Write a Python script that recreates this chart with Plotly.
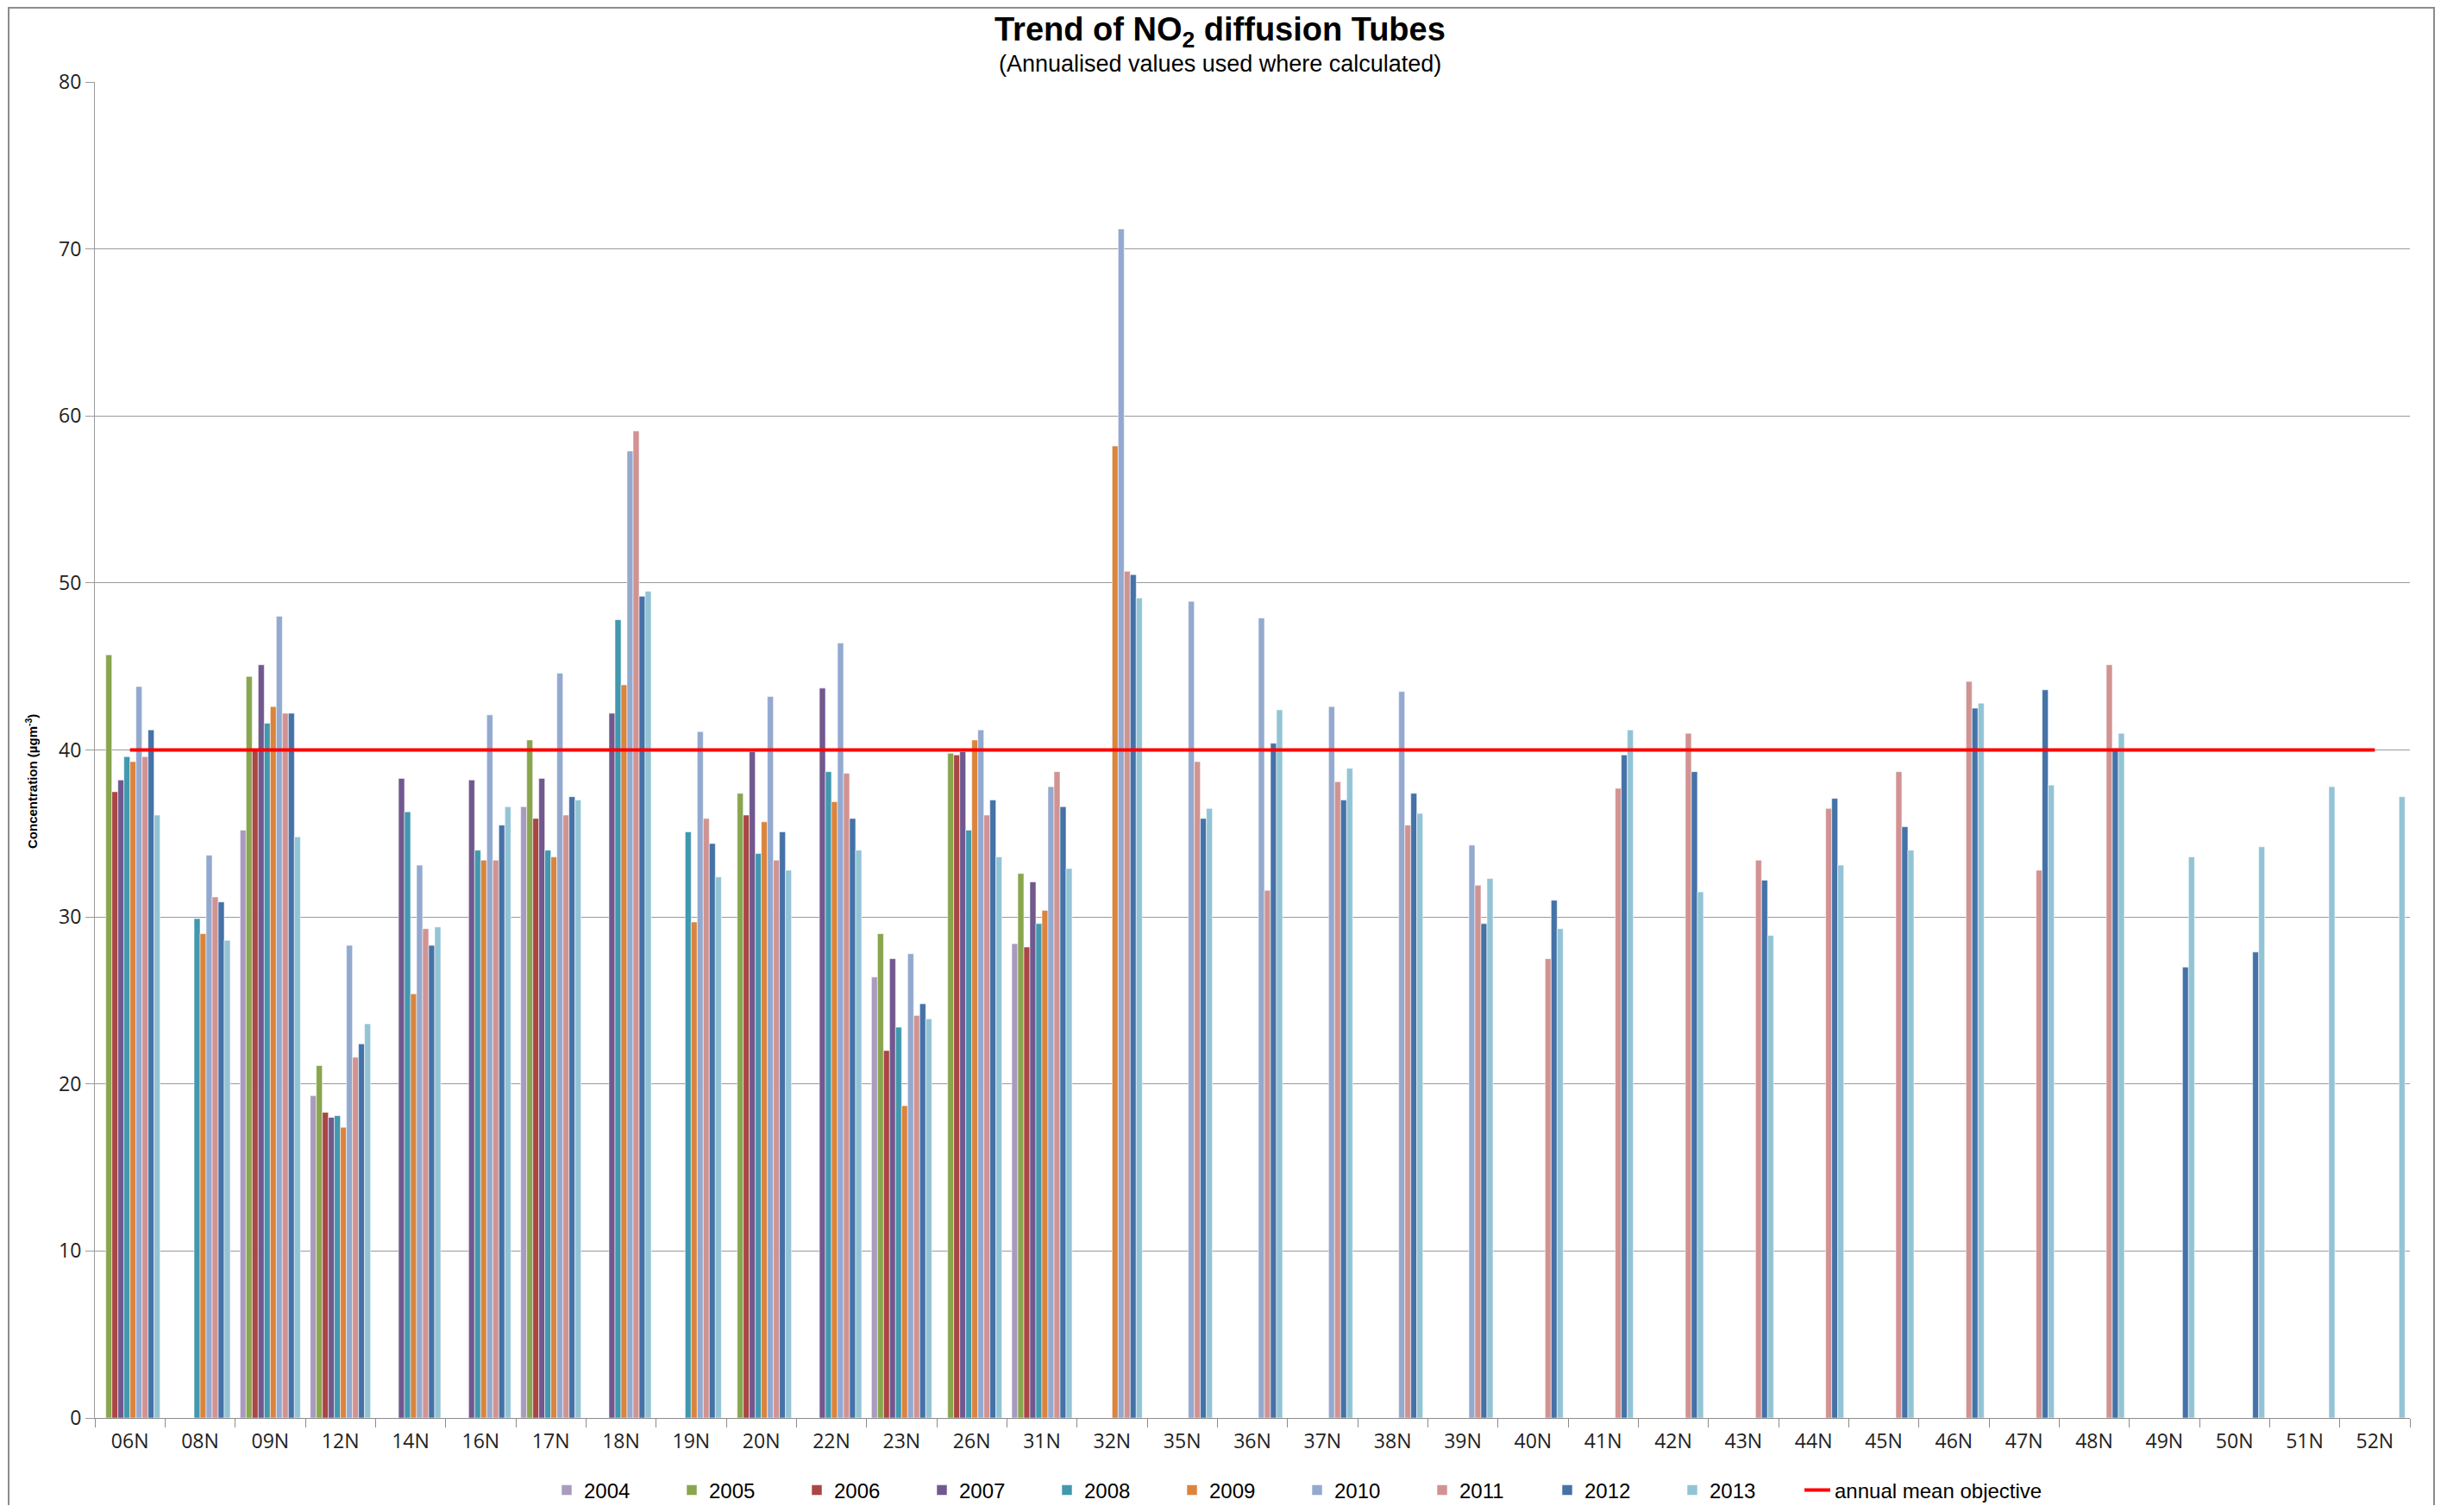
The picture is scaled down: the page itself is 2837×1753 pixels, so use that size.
import plotly.graph_objects as go

categories = ["06N", "08N", "09N", "12N", "14N", "16N", "17N", "18N", "19N", "20N",
              "22N", "23N", "26N", "31N", "32N", "35N", "36N", "37N", "38N", "39N",
              "40N", "41N", "42N", "43N", "44N", "45N", "46N", "47N", "48N", "49N",
              "50N", "51N", "52N"]

N = None
y2004 = [N, N, 35.2, 19.3, N, N, 36.6, N, N, N,
         N, 26.4, N, 28.4, N, N, N, N, N, N,
         N, N, N, N, N, N, N, N, N, N, N, N, N]
y2005 = [45.7, N, 44.4, 21.1, N, N, 40.6, N, N, 37.4,
         N, 29.0, 39.8, 32.6, N, N, N, N, N, N,
         N, N, N, N, N, N, N, N, N, N, N, N, N]
y2006 = [37.5, N, 40.0, 18.3, N, N, 35.9, N, N, 36.1,
         N, 22.0, 39.7, 28.2, N, N, N, N, N, N,
         N, N, N, N, N, N, N, N, N, N, N, N, N]
y2007 = [38.2, N, 45.1, 18.0, 38.3, 38.2, 38.3, 42.2, N, 39.9,
         43.7, 27.5, 39.9, 32.1, N, N, N, N, N, N,
         N, N, N, N, N, N, N, N, N, N, N, N, N]
y2008 = [39.6, 29.9, 41.6, 18.1, 36.3, 34.0, 34.0, 47.8, 35.1, 33.8,
         38.7, 23.4, 35.2, 29.6, N, N, N, N, N, N,
         N, N, N, N, N, N, N, N, N, N, N, N, N]
y2009 = [39.3, 29.0, 42.6, 17.4, 25.4, 33.4, 33.6, 43.9, 29.7, 35.7,
         36.9, 18.7, 40.6, 30.4, 58.2, N, N, N, N, N,
         N, N, N, N, N, N, N, N, N, N, N, N, N]
y2010 = [43.8, 33.7, 48.0, 28.3, 33.1, 42.1, 44.6, 57.9, 41.1, 43.2,
         46.4, 27.8, 41.2, 37.8, 71.2, 48.9, 47.9, 42.6, 43.5, 34.3,
         N, N, N, N, N, N, N, N, N, N, N, N, N]
y2011 = [39.6, 31.2, 42.2, 21.6, 29.3, 33.4, 36.1, 59.1, 35.9, 33.4,
         38.6, 24.1, 36.1, 38.7, 50.7, 39.3, 31.6, 38.1, 35.5, 31.9,
         27.5, 37.7, 41.0, 33.4, 36.5, 38.7, 44.1, 32.8, 45.1, N, N, N, N]
y2012 = [41.2, 30.9, 42.2, 22.4, 28.3, 35.5, 37.2, 49.2, 34.4, 35.1,
         35.9, 24.8, 37.0, 36.6, 50.5, 35.9, 40.4, 37.0, 37.4, 29.6,
         31.0, 39.7, 38.7, 32.2, 37.1, 35.4, 42.5, 43.6, 40.1, 27.0, 27.9, N, N]
y2013 = [36.1, 28.6, 34.8, 23.6, 29.4, 36.6, 37.0, 49.5, 32.4, 32.8,
         34.0, 23.9, 33.6, 32.9, 49.1, 36.5, 42.4, 38.9, 36.2, 32.3,
         29.3, 41.2, 31.5, 28.9, 33.1, 34.0, 42.8, 37.9, 41.0, 33.6, 34.2, 37.8, 37.2]

series_names = ["2004", "2005", "2006", "2007", "2008", "2009", "2010", "2011", "2012", "2013"]
series_values = [y2004, y2005, y2006, y2007, y2008, y2009, y2010, y2011, y2012, y2013]
series_colors = ["#A99BBF", "#89A54E", "#AA4643", "#71588F", "#4198AF",
                 "#DB843D", "#93A9CF", "#D19392", "#4572A7", "#93C4D6"]

objective_value = 40
objective_name = "annual mean objective"

TITLE = "Trend of NO<sub>2</sub> diffusion Tubes"
SUBTITLE = "(Annualised values used where calculated)"
Y_TITLE = "Concentration (µgm<sup>-3</sup>)"

NARROW = "Liberation Sans Narrow, Arial Narrow, Liberation Sans, Arial, sans-serif"
REG = "Open Sans, Liberation Sans, Arial, sans-serif"

fig = go.Figure()
for name, vals, col in zip(series_names, series_values, series_colors):
    fig.add_trace(go.Bar(
        x=categories, y=vals, name=name,
        marker=dict(color=col, line=dict(color="rgba(255,255,255,0.55)", width=1)),
    ))

fig.add_trace(go.Scatter(
    x=categories, y=[objective_value] * len(categories), name=objective_name,
    mode="lines", line=dict(color="#FF0000", width=4), legendwidth=260,
))

# page has an 8px body margin; target coordinates are in screenshot pixels
OFF = 8
W, H = 2837 - 2 * OFF, 1753 - 2 * OFF
PLOT_L, PLOT_R, PLOT_T, PLOT_B = 110, 2794, 95, 1644   # screenshot px
L = PLOT_L - OFF
R = W - (PLOT_R - OFF)
T = PLOT_T - OFF
B = H - (PLOT_B - OFF)
pw, ph = W - L - R, H - T - B

def px_x(x):
    return (x - OFF - L) / pw

def px_y(y):
    return (H - B - (y - OFF)) / ph

fig.update_layout(
    width=W, height=H,
    margin=dict(l=L, r=R, t=T, b=B, autoexpand=False),
    paper_bgcolor="white", plot_bgcolor="white",
    barmode="group", bargap=0.14, bargroupgap=0,
    showlegend=True,
    legend=dict(
        orientation="h", x=px_x(637), xanchor="left", y=px_y(1728), yanchor="middle",
        font=dict(family=NARROW, size=24, color="#000"),
        entrywidth=100, entrywidthmode="pixels", traceorder="normal",
        bgcolor="rgba(0,0,0,0)",
    ),
    xaxis=dict(
        type="category", showgrid=False, showline=True, linecolor="#8C8C8C", linewidth=1,
        ticks="outside", tickson="boundaries", ticklen=10, tickcolor="#8C8C8C",
        ticklabelstandoff=6,
        tickfont=dict(family=REG, size=23, color="#222"),
    ),
    yaxis=dict(
        range=[0, 80], dtick=10, showgrid=True, gridcolor="#9A9A9A", gridwidth=1,
        showline=True, linecolor="#9A9A9A", linewidth=1, zeroline=False,
        ticks="outside", ticklen=10, tickcolor="#9A9A9A",
        tickfont=dict(family=REG, size=23, color="#222"),
    ),
    annotations=[
        dict(text="<b>" + TITLE + "</b>", xref="paper", yref="paper",
             x=px_x(1414), y=px_y(37), xanchor="center", yanchor="middle",
             showarrow=False, font=dict(family=NARROW, size=38, color="#000")),
        dict(text=SUBTITLE, xref="paper", yref="paper",
             x=px_x(1414), y=px_y(74), xanchor="center", yanchor="middle",
             showarrow=False, font=dict(family=NARROW, size=27, color="#000")),
        dict(text="<b>" + Y_TITLE + "</b>", xref="paper", yref="paper",
             x=px_x(36), y=px_y(906), xanchor="center", yanchor="middle",
             textangle=-90, showarrow=False,
             font=dict(family=NARROW, size=15, color="#000")),
    ],
    shapes=[
        dict(type="rect", xref="paper", yref="paper",
             x0=px_x(10), x1=px_x(2822), y0=px_y(1760), y1=px_y(9),
             line=dict(color="#8C8C8C", width=2), fillcolor="rgba(0,0,0,0)", layer="below"),
    ],
)

fig.write_html("out.html")
